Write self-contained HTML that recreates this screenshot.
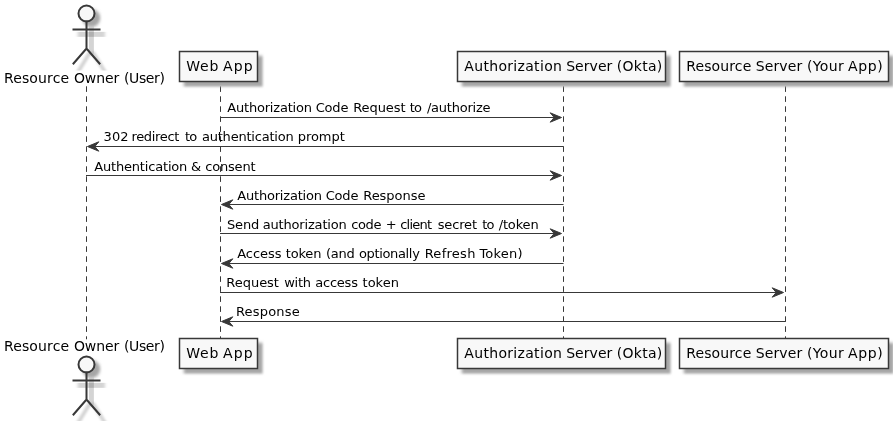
<!DOCTYPE html>
<html lang="en"><head><meta charset="utf-8"><title>Authorization Code Flow</title>
<style>
html,body{margin:0;padding:0;background:#fff;}
body{width:893px;height:421px;overflow:hidden;}
svg{display:block;opacity:0.999;}
text{font-family:'DejaVu Sans','Liberation Sans',sans-serif;fill:#000;white-space:pre;}
.p{font-size:14px;}
.m{font-size:13px;}
.ln{stroke:#383838;stroke-width:1;fill:none;}
.life{stroke:#383838;stroke-width:1;stroke-dasharray:5.6,4.4;fill:none;}
.box{fill:#F8F8F8;stroke:#383838;stroke-width:1.5;}
.man{stroke:#383838;stroke-width:2;fill:none;stroke-linecap:square;}
.head{fill:#F8F8F8;stroke:#383838;stroke-width:2;}
.ah{fill:#383838;stroke:#383838;stroke-width:1;stroke-miterlimit:10;}
</style></head><body>
<svg width="893" height="421" viewBox="0 0 893 421">
<defs>
<filter id="shr" x="-0.4" y="-0.6" width="1.4" height="1.6"><feMorphology in="SourceGraphic" operator="dilate" radius="3"/><feOffset dx="3" dy="3"/><feGaussianBlur stdDeviation="1.1"/></filter>
<filter id="she" x="-0.5" y="-0.5" width="1.5" height="1.5"><feGaussianBlur stdDeviation="1.1"/></filter>
<filter id="soft" x="-5%" y="-5%" width="110%" height="110%"><feGaussianBlur stdDeviation="0.9"/></filter>
<filter id="lsh2" filterUnits="userSpaceOnUse" x="0" y="0" width="893" height="421"><feGaussianBlur stdDeviation="0.9"/></filter>
<clipPath id="clip5"><rect x="0" y="0" width="893" height="70.6"/></clipPath>
<clipPath id="clip356"><rect x="0" y="0" width="893" height="421.6"/></clipPath>
<filter id="lshh" filterUnits="userSpaceOnUse" x="0" y="0" width="893" height="421"><feGaussianBlur stdDeviation="1.4 0.45"/></filter>
<filter id="lshv" filterUnits="userSpaceOnUse" x="0" y="0" width="893" height="421"><feGaussianBlur stdDeviation="0.45 1.4"/></filter>
</defs>
<rect width="893" height="421" fill="#fff"/>
<line class="life" x1="86.5" x2="86.5" y1="86.3" y2="339.3"/>
<line class="life" x1="220.5" x2="220.5" y1="86.3" y2="339.3"/>
<line class="life" x1="563.5" x2="563.5" y1="86.3" y2="339.3"/>
<line class="life" x1="785.5" x2="785.5" y1="86.3" y2="339.3"/>
<g fill="none" stroke="#000" stroke-width="5" stroke-opacity="0.17"><path filter="url(#lshv)" d="M91.4,26.35 L91.4,53.85"/><path filter="url(#lshh)" d="M77.60,34.35 L105.00,34.35"/></g>
<g filter="url(#lsh2)" clip-path="url(#clip5)" fill="none" stroke="#000" stroke-linecap="butt" stroke-width="3.8" stroke-opacity="0.17"><path d="M90.2,52.0 L77.38,73.0"/><path d="M92.6,52.0 L105.64,73.0"/></g>
<g fill="none" stroke="#000" stroke-width="5" stroke-opacity="0.17"><path filter="url(#lshv)" d="M91.4,377.35 L91.4,404.85"/><path filter="url(#lshh)" d="M77.60,385.35 L105.00,385.35"/></g>
<g filter="url(#lsh2)" clip-path="url(#clip356)" fill="none" stroke="#000" stroke-linecap="butt" stroke-width="3.8" stroke-opacity="0.17"><path d="M90.2,403.0 L77.38,424.0"/><path d="M92.6,403.0 L105.64,424.0"/></g>
<g filter="url(#soft)">
<ellipse cx="91.3" cy="18.1" rx="9" ry="9" fill="#A6A6A6" filter="url(#she)"/>
<ellipse cx="91.3" cy="369.1" rx="9" ry="9" fill="#A6A6A6" filter="url(#she)"/>
<rect fill="#A6A6A6" filter="url(#shr)" x="183.8" y="55.8" width="79.1" height="31.0"/>
<rect fill="#A6A6A6" filter="url(#shr)" x="183.8" y="342.8" width="79.1" height="31.0"/>
<rect fill="#A6A6A6" filter="url(#shr)" x="461.8" y="55.8" width="209.1" height="31.0"/>
<rect fill="#A6A6A6" filter="url(#shr)" x="461.8" y="342.8" width="209.1" height="31.0"/>
<rect fill="#A6A6A6" filter="url(#shr)" x="683.8" y="55.8" width="210.1" height="31.0"/>
<rect fill="#A6A6A6" filter="url(#shr)" x="683.8" y="342.8" width="210.1" height="31.0"/>
</g>
<ellipse class="head" cx="86.5" cy="13.5" rx="8" ry="8"/>
<path class="man" d="M86.5,21.5 L86.5,48.5 M73.5,29.5 L99.5,29.5 M86.5,48.5 L73.5,63.5 M86.5,48.5 L99.5,63.5"/>
<ellipse class="head" cx="86.5" cy="364.5" rx="8" ry="8"/>
<path class="man" d="M86.5,372.5 L86.5,399.5 M73.5,380.5 L99.5,380.5 M86.5,399.5 L73.5,414.5 M86.5,399.5 L99.5,414.5"/>
<rect class="box" x="179.5" y="51.5" width="78" height="30"/>
<rect class="box" x="179.5" y="338.5" width="78" height="30"/>
<rect class="box" x="457.5" y="51.5" width="208" height="30"/>
<rect class="box" x="457.5" y="338.5" width="208" height="30"/>
<rect class="box" x="679.5" y="51.5" width="209" height="30"/>
<rect class="box" x="679.5" y="338.5" width="209" height="30"/>
<polygon class="ah" points="550.2,112.8 561.5,117.5 550.2,122.2 554.2,117.5"/>
<line class="ln" x1="220.0" x2="557.5" y1="117.5" y2="117.5"/>
<polygon class="ah" points="98.8,141.8 87.5,146.5 98.8,151.2 94.8,146.5"/>
<line class="ln" x1="91.5" x2="563.5" y1="146.5" y2="146.5"/>
<polygon class="ah" points="550.2,170.8 561.5,175.5 550.2,180.2 554.2,175.5"/>
<line class="ln" x1="86.0" x2="557.5" y1="175.5" y2="175.5"/>
<polygon class="ah" points="232.8,199.8 221.5,204.5 232.8,209.2 228.8,204.5"/>
<line class="ln" x1="225.5" x2="563.5" y1="204.5" y2="204.5"/>
<polygon class="ah" points="550.2,228.8 561.5,233.5 550.2,238.2 554.2,233.5"/>
<line class="ln" x1="220.0" x2="557.5" y1="233.5" y2="233.5"/>
<polygon class="ah" points="232.8,258.8 221.5,263.5 232.8,268.2 228.8,263.5"/>
<line class="ln" x1="225.5" x2="563.5" y1="263.5" y2="263.5"/>
<polygon class="ah" points="772.2,287.8 783.5,292.5 772.2,297.2 776.2,292.5"/>
<line class="ln" x1="220.0" x2="779.5" y1="292.5" y2="292.5"/>
<polygon class="ah" points="232.8,316.8 221.5,321.5 232.8,326.2 228.8,321.5"/>
<line class="ln" x1="225.5" x2="785.5" y1="321.5" y2="321.5"/>
<text class="p" y="83"><tspan x="4.01" style="letter-spacing:0.123px">Resource</tspan> <tspan x="73.88" style="letter-spacing:-0.106px">Owner</tspan> <tspan x="123.96" style="letter-spacing:-0.390px">(User)</tspan></text>
<text class="p" y="351"><tspan x="4.01" style="letter-spacing:0.123px">Resource</tspan> <tspan x="73.88" style="letter-spacing:-0.106px">Owner</tspan> <tspan x="123.96" style="letter-spacing:-0.390px">(User)</tspan></text>
<text class="p" y="71"><tspan x="186.22" style="letter-spacing:0.780px">Web</tspan> <tspan x="222.93" style="letter-spacing:1.187px">App</tspan></text>
<text class="p" y="358"><tspan x="186.22" style="letter-spacing:0.780px">Web</tspan> <tspan x="222.93" style="letter-spacing:1.187px">App</tspan></text>
<text class="p" y="71"><tspan x="464.32" style="letter-spacing:0.317px">Authorization</tspan> <tspan x="566.13" style="letter-spacing:0.056px">Server</tspan> <tspan x="616.86" style="letter-spacing:0.248px">(Okta)</tspan></text>
<text class="p" y="358"><tspan x="464.32" style="letter-spacing:0.317px">Authorization</tspan> <tspan x="566.13" style="letter-spacing:0.056px">Server</tspan> <tspan x="616.86" style="letter-spacing:0.248px">(Okta)</tspan></text>
<text class="p" y="71"><tspan x="686.18" style="letter-spacing:0.126px">Resource</tspan> <tspan x="755.78" style="letter-spacing:0.093px">Server</tspan> <tspan x="807.06" style="letter-spacing:0.335px">(Your</tspan> <tspan x="847.98" style="letter-spacing:0.674px">App)</tspan></text>
<text class="p" y="358"><tspan x="686.18" style="letter-spacing:0.126px">Resource</tspan> <tspan x="755.78" style="letter-spacing:0.093px">Server</tspan> <tspan x="807.06" style="letter-spacing:0.335px">(Your</tspan> <tspan x="847.98" style="letter-spacing:0.674px">App)</tspan></text>
<text class="m" y="112"><tspan x="227.24" style="letter-spacing:-0.195px">Authorization</tspan> <tspan x="315.74" style="letter-spacing:-0.207px">Code</tspan> <tspan x="353.24" style="letter-spacing:-0.086px">Request</tspan> <tspan x="409.78" style="letter-spacing:-0.849px">to</tspan> <tspan x="426.94" style="letter-spacing:-0.234px">/authorize</tspan></text>
<text class="m" y="141"><tspan x="103.60" style="letter-spacing:0.058px">302</tspan> <tspan x="131.40" style="letter-spacing:-0.306px">redirect</tspan> <tspan x="184.95" style="letter-spacing:-0.796px">to</tspan> <tspan x="201.94" style="letter-spacing:-0.209px">authentication</tspan> <tspan x="297.78" style="letter-spacing:-0.064px">prompt</tspan></text>
<text class="m" y="171"><tspan x="94.24" style="letter-spacing:-0.178px">Authentication</tspan> <tspan x="191.08">&amp;</tspan> <tspan x="205.33" style="letter-spacing:-0.207px">consent</tspan></text>
<text class="m" y="200"><tspan x="237.24" style="letter-spacing:-0.195px">Authorization</tspan> <tspan x="325.74" style="letter-spacing:-0.207px">Code</tspan> <tspan x="363.24" style="letter-spacing:-0.031px">Response</tspan></text>
<text class="m" y="229"><tspan x="226.96" style="letter-spacing:-0.114px">Send</tspan> <tspan x="262.76" style="letter-spacing:-0.178px">authorization</tspan> <tspan x="351.16" style="letter-spacing:-0.352px">code</tspan> <tspan x="385.84">+</tspan> <tspan x="400.16" style="letter-spacing:-0.728px">client</tspan> <tspan x="437.63" style="letter-spacing:-0.130px">secret</tspan> <tspan x="482.27" style="letter-spacing:-0.758px">to</tspan> <tspan x="498.67" style="letter-spacing:-0.135px">/token</tspan></text>
<text class="m" y="258"><tspan x="237.24" style="letter-spacing:-0.046px">Access</tspan> <tspan x="285.78" style="letter-spacing:-0.171px">token</tspan> <tspan x="325.96" style="letter-spacing:-0.213px">(and</tspan> <tspan x="358.88" style="letter-spacing:-0.337px">optionally</tspan> <tspan x="424.65" style="letter-spacing:0.275px">Refresh</tspan> <tspan x="479.38" style="letter-spacing:0.242px">Token)</tspan></text>
<text class="m" y="287"><tspan x="226.32" style="letter-spacing:-0.026px">Request</tspan> <tspan x="284.30" style="letter-spacing:-0.316px">with</tspan> <tspan x="315.31" style="letter-spacing:-0.235px">access</tspan> <tspan x="362.53" style="letter-spacing:0.028px">token</tspan></text>
<text class="m" y="316"><tspan x="235.94" style="letter-spacing:0.187px">Response</tspan></text>
</svg>
</body></html>
